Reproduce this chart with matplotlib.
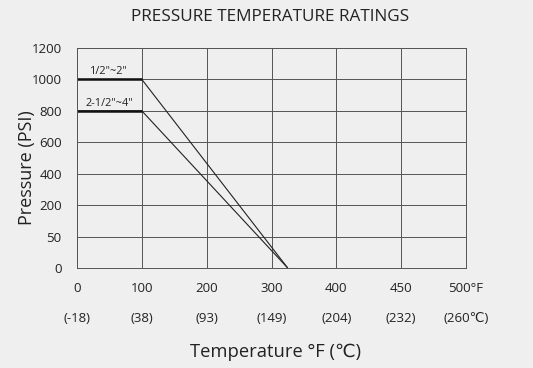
import numpy as np
import matplotlib
matplotlib.use("Agg")
import matplotlib.pyplot as plt
import matplotlib.transforms as mtransforms

plt.rcParams['font.family'] = ['Open Sans', 'DejaVu Sans']

# Axis tick values (non-uniform, evenly spaced on chart)
x_ticks_f = [0, 100, 200, 300, 400, 450, 500]
x_labels_f = ["0", "100", "200", "300", "400", "450", "500\u00b0F"]
x_labels_c = ["(-18)", "(38)", "(93)", "(149)", "(204)", "(232)", "(260\u2103)"]
y_ticks = [0, 50, 200, 400, 600, 800, 1000, 1200]

# Series
temps = [0, 100, 325]
p_small = [1000, 1000, 0]   # 1/2"~2"
p_large = [800, 800, 0]     # 2-1/2"~4"
series_labels = ['1/2"~2"', '2-1/2"~4"']

xpos = np.arange(len(x_ticks_f), dtype=float)
ypos = np.arange(len(y_ticks), dtype=float)

def xf(v):
    return np.interp(v, x_ticks_f, xpos)
def xi(p):
    return np.interp(p, xpos, x_ticks_f)
def yf(v):
    return np.interp(v, y_ticks, ypos)
def yi(p):
    return np.interp(p, ypos, y_ticks)

bg = '#efefef'
fig = plt.figure(figsize=(5.33, 3.68), dpi=100, facecolor=bg)
ax = fig.add_axes([77/533, 100/368, 389/533, 220/368], facecolor=bg)
ax.set_xscale('function', functions=(xf, xi))
ax.set_yscale('function', functions=(yf, yi))
ax.set_xlim(0, 500)
ax.set_ylim(0, 1200)

ax.set_xticks(x_ticks_f)
ax.set_xticklabels(x_labels_f)
ax.set_yticks(y_ticks)
ax.set_yticklabels([str(v) for v in y_ticks])
ax.tick_params(length=0, labelsize=9.5, colors='#222222', pad=10)
ax.tick_params(axis='y', pad=11)
ax.grid(True, color='#555555', linewidth=0.7)
for s in ax.spines.values():
    s.set_color('#555555')
    s.set_linewidth(0.7)

trans = mtransforms.blended_transform_factory(ax.transData, fig.transFigure)
for t, lab in zip(x_ticks_f, x_labels_c):
    ax.text(t, 1 - 318/368, lab, transform=trans, ha='center', va='center',
            fontsize=9.5, color='#222222')

# Lines
for p, lab in zip([p_small, p_large], series_labels):
    ax.plot(temps, p, color='#222222', linewidth=0.8, solid_capstyle='butt')
    ax.plot(temps[:2], p[:2], color='#111111', linewidth=1.8, solid_capstyle='butt')
    ax.annotate(lab, xy=((temps[0] + temps[1]) / 2, p[0]), xytext=(0, 1.5),
                textcoords='offset points', ha='center', va='bottom',
                fontsize=7.8, color='#222222')

ax.set_axisbelow(True)
fig.text(270/533, 1 - 17/368, 'PRESSURE TEMPERATURE RATINGS', ha='center', va='center',
         fontsize=12.3, color='#222222')
fig.text(27/533, 1 - 168/368, 'Pressure (PSI)', ha='center', va='center', rotation=90,
         fontsize=13, color='#222222')
fig.text(276/533, 1 - 352/368, 'Temperature \u00b0F (\u2103)', ha='center', va='center',
         fontsize=13.2, color='#222222')

fig.savefig('out.png', dpi=100, facecolor=bg)
